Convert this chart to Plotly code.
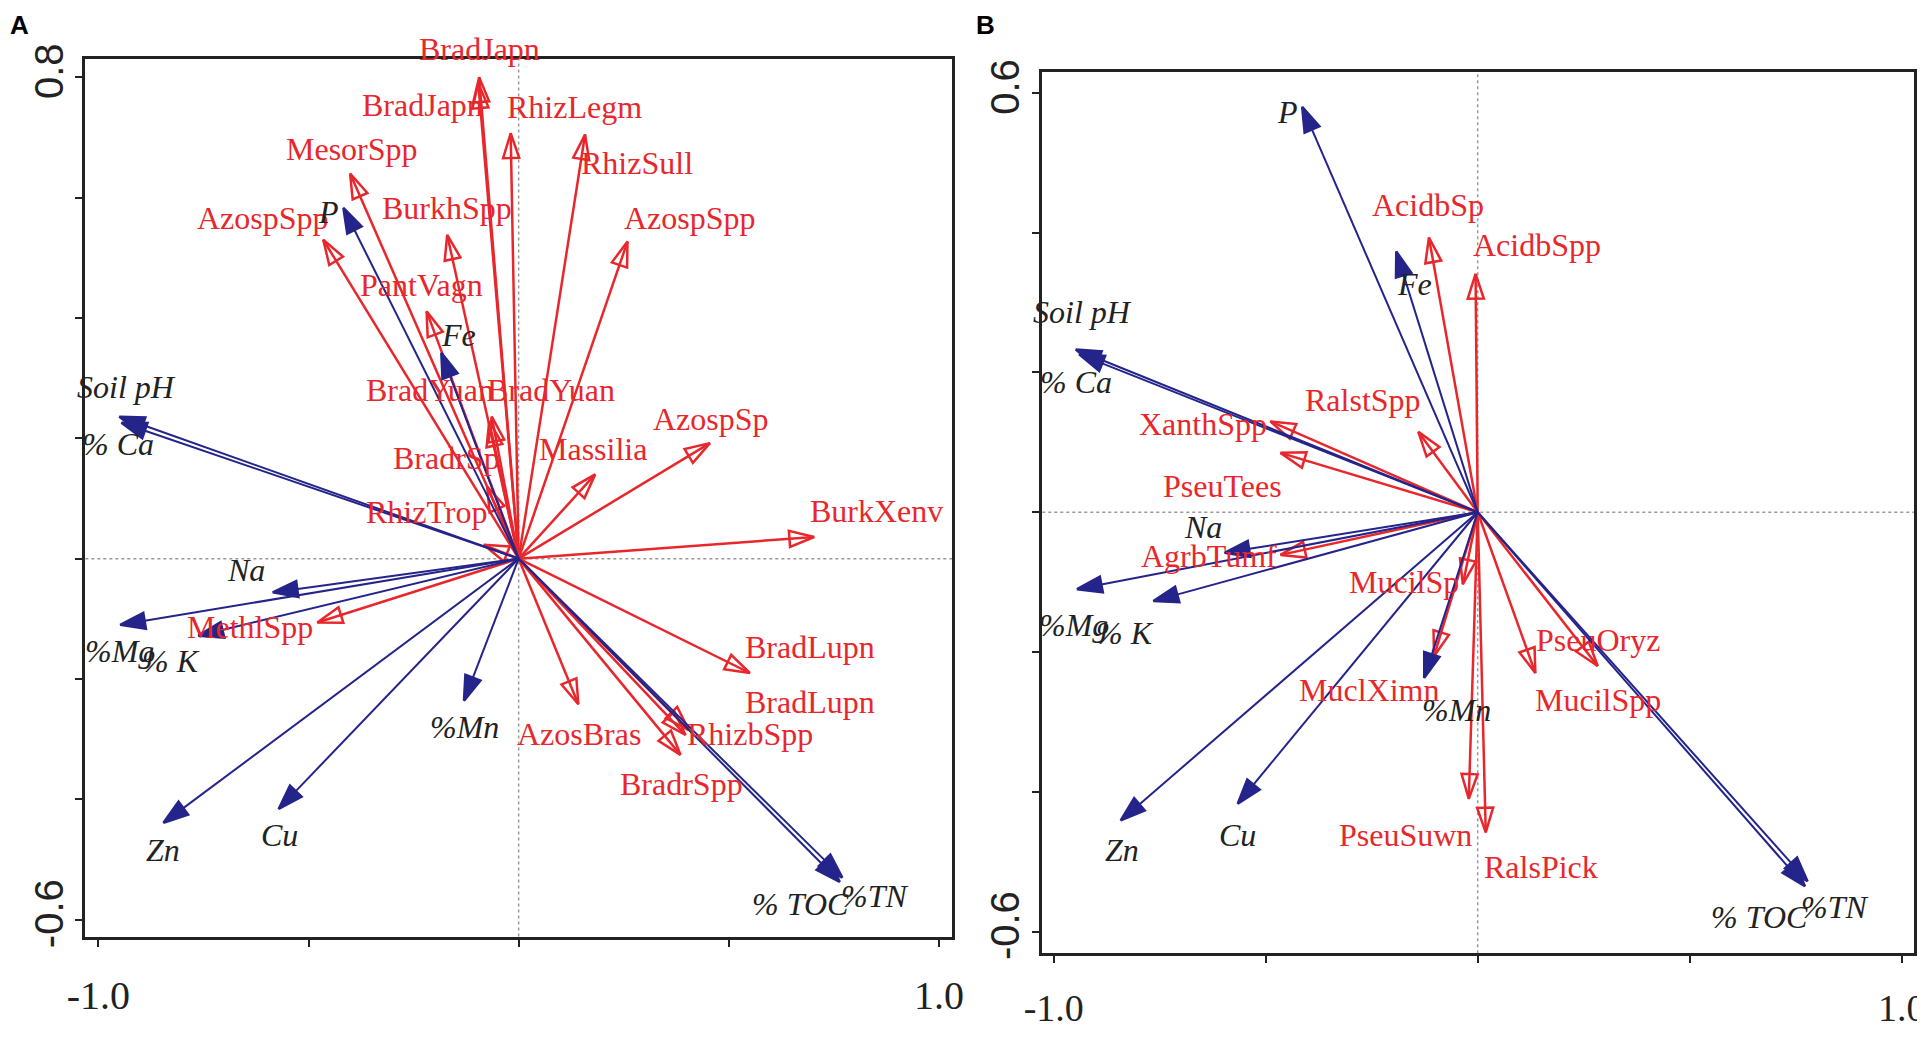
import plotly.graph_objects as go

# ---- panel A : species (red) ----
a_sp       = ["BradJapn", "BradJapn", "RhizLegm", "RhizSull", "MesorSpp", "AzospSpp", "BurkhSpp",
              "AzospSpp", "PantVagn", "BradYuan", "BradYuan", "BradrSp", "RhizTrop", "Massilia",
              "AzospSp", "BurkXenv", "MethlSpp", "BradLupn", "BradLupn", "RhizbSpp", "BradrSpp", "AzosBras"]
a_sp_x     = [-0.094, -0.096, -0.019, 0.158, -0.401, -0.465, -0.170, 0.259, -0.219, -0.070, -0.064,
              -0.075, -0.083, 0.182, 0.455, 0.703, -0.479, 0.550, 0.405, 0.397, 0.385, 0.142]
a_sp_y     = [0.800, 0.790, 0.707, 0.705, 0.640, 0.530, 0.538, 0.527, 0.411, 0.228, 0.236,
              0.120, 0.023, 0.140, 0.192, 0.036, -0.106, -0.190, -0.285, -0.293, -0.326, -0.242]
a_sp_lx    = [-0.094, -0.229, 0.132, 0.281, -0.396, -0.608, -0.170, 0.408, -0.231, -0.212, 0.078,
              -0.172, -0.217, 0.177, 0.458, 0.851, -0.639, 0.694, 0.694, 0.550, 0.387, 0.144]
a_sp_ly    = [0.846, 0.754, 0.751, 0.658, 0.681, 0.566, 0.583, 0.566, 0.455, 0.280, 0.280,
              0.167, 0.077, 0.183, 0.232, 0.080, -0.113, -0.146, -0.239, -0.291, -0.375, -0.291]

# ---- panel A : environment (blue) ----
a_env      = ["Soil pH", "% Ca", "P", "Fe", "Na", "%Mg", "% K", "Zn", "Cu", "%Mn", "% TOC", "%TN"]
a_env_x    = [-0.950, -0.945, -0.417, -0.184, -0.585, -0.948, -0.762, -0.845, -0.571, -0.130, 0.764, 0.770]
a_env_y    = [0.236, 0.226, 0.583, 0.342, -0.056, -0.110, -0.128, -0.439, -0.416, -0.236, -0.537, -0.530]
a_env_lx   = [-0.932, -0.953, -0.453, -0.142, -0.649, -0.950, -0.828, -0.847, -0.568, -0.130, 0.670, 0.847]
a_env_ly   = [0.285, 0.190, 0.576, 0.372, -0.018, -0.154, -0.170, -0.484, -0.460, -0.280, -0.574, -0.561]

# ---- panel B : species (red) ----
b_sp       = ["AcidbSp", "AcidbSpp", "RalstSpp", "XanthSpp", "PseuTees", "AgrbTumf", "MucilSp",
              "MuclXimn", "PseuSuwn", "RalsPick", "PseuOryz", "MucilSpp"]
b_sp_x     = [-0.115, -0.005, -0.140, -0.489, -0.465, -0.465, -0.035, -0.103, -0.021, 0.019, 0.283, 0.136]
b_sp_y     = [0.393, 0.341, 0.115, 0.130, 0.085, -0.061, -0.103, -0.206, -0.410, -0.458, -0.220, -0.230]
b_sp_lx    = [-0.117, 0.141, -0.271, -0.648, -0.601, -0.634, -0.173, -0.257, -0.171, 0.150, 0.283, 0.283]
b_sp_ly    = [0.439, 0.383, 0.160, 0.127, 0.038, -0.063, -0.100, -0.255, -0.462, -0.507, -0.183, -0.269]

# ---- panel B : environment (blue) ----
b_env      = ["P", "Fe", "Soil pH", "% Ca", "Na", "%Mg", "% K", "Zn", "Cu", "%Mn", "% TOC", "%TN"]
b_env_x    = [-0.414, -0.192, -0.948, -0.940, -0.597, -0.945, -0.765, -0.842, -0.566, -0.126, 0.772, 0.778]
b_env_y    = [0.580, 0.373, 0.233, 0.226, -0.058, -0.110, -0.127, -0.441, -0.417, -0.237, -0.535, -0.528]
b_env_lx   = [-0.449, -0.150, -0.931, -0.947, -0.648, -0.954, -0.833, -0.840, -0.566, -0.051, 0.664, 0.842]
b_env_ly   = [0.573, 0.327, 0.287, 0.186, -0.021, -0.162, -0.173, -0.483, -0.462, -0.283, -0.579, -0.565]

RED   = "#E8272C"
BLUE  = "#24248A"
SERIF = "Liberation Serif"
H     = 1041

A_YRANGE = [-0.628, 0.830]
A_YDOM   = [0.0941, 0.950]
B_YRANGE = [-0.631, 0.630]
B_YDOM   = [0.0778, 0.9376]

fig  = go.Figure()
anns = []


def arrows(xs, ys, color, symbol, width, xa, ya):
    for x, y in zip(xs, ys):
        fig.add_trace(go.Scatter(
            x = [0, x], y = [0, y], xaxis = xa, yaxis = ya,
            mode = "lines+markers",
            line = dict(color = color, width = width),
            marker = dict(symbol = ["circle", symbol], size = [0, 26], angleref = "previous", opacity = 1,
                          color = color, line = dict(color = color, width = 2.5)),
            hoverinfo = "skip", showlegend = False, cliponaxis = False))


def labels(xs, ys, names, color, xa, ya, yrange, ydom, italic = False):
    # plotly hides annotations anchored outside the axis range, so clamp and shift in px
    ppu = (ydom[1] - ydom[0]) * H / (yrange[1] - yrange[0])
    for x, y, n in zip(xs, ys, names):
        yc = min(y, yrange[1])
        anns.append(dict(x = x, y = yc, xref = xa, yref = ya, showarrow = False, yshift = (y - yc) * ppu,
                         text = f"<i>{n}</i>" if italic else n,
                         font = dict(family = SERIF, size = 32, color = color)))


arrows(a_sp_x, a_sp_y, RED, "arrow-open", 2.5, "x", "y")
arrows(a_env_x, a_env_y, BLUE, "arrow", 2, "x", "y")
labels(a_sp_lx, a_sp_ly, a_sp, RED, "x", "y", A_YRANGE, A_YDOM)
labels(a_env_lx, a_env_ly, a_env, "#222222", "x", "y", A_YRANGE, A_YDOM, italic = True)

arrows(b_sp_x, b_sp_y, RED, "arrow-open", 2.5, "x2", "y2")
arrows(b_env_x, b_env_y, BLUE, "arrow", 2, "x2", "y2")
labels(b_sp_lx, b_sp_ly, b_sp, RED, "x2", "y2", B_YRANGE, B_YDOM)
labels(b_env_lx, b_env_ly, b_env, "#222222", "x2", "y2", B_YRANGE, B_YDOM, italic = True)

anns.append(dict(text = "<b>A</b>", x = 0.0, y = 1.0, xref = "paper", yref = "paper", xanchor = "left",
                 yanchor = "top", showarrow = False, font = dict(family = "Liberation Sans", size = 26, color = "black")))
anns.append(dict(text = "<b>B</b>", x = 0.506, y = 1.0, xref = "paper", yref = "paper", xanchor = "left",
                 yanchor = "top", showarrow = False, font = dict(family = "Liberation Sans", size = 26, color = "black")))

ax_common = dict(showgrid = False, zeroline = False, showline = True, linecolor = "#222", linewidth = 3,
                 mirror = True, ticks = "outside", ticklen = 7, tickwidth = 2, tickcolor = "#222",
                 automargin = False, ticklabeloverflow = "allow")

fig.update_layout(
    plot_bgcolor = "white", paper_bgcolor = "white",
    margin = dict(l = 0, r = 0, t = 0, b = 0),
    xaxis  = dict(ax_common, domain = [0.0405, 0.4945], range = [-1.031, 1.031],
                  tickvals = [-1, -0.5, 0, 0.5, 1], ticktext = ["-1.0", "", "", "", "1.0"],
                  tickfont = dict(family = SERIF, size = 40, color = "#222"), ticklabelstandoff = 14),
    yaxis  = dict(ax_common, domain = A_YDOM, range = A_YRANGE,
                  tickvals = [-0.6, -0.4, -0.2, 0, 0.2, 0.4, 0.6, 0.8],
                  ticktext = ["-0.6", "", "", "", "", "", "", "0.8"], tickangle = -90,
                  tickfont = dict(family = "Liberation Sans", size = 40, color = "#222"), ticklabelstandoff = -4),
    xaxis2 = dict(ax_common, domain = [0.5418, 0.9984], range = [-1.027, 1.029], anchor = "y2",
                  tickvals = [-1, -0.5, 0, 0.5, 1], ticktext = ["-1.0", "", "", "", "1.0"],
                  tickfont = dict(family = SERIF, size = 38, color = "#222"), ticklabelstandoff = 12),
    yaxis2 = dict(ax_common, domain = B_YDOM, range = B_YRANGE, anchor = "x2",
                  tickvals = [-0.6, -0.4, -0.2, 0, 0.2, 0.4, 0.6],
                  ticktext = ["-0.6", "", "", "", "", "", "0.6"], tickangle = -90,
                  tickfont = dict(family = "Liberation Sans", size = 40, color = "#222"), ticklabelstandoff = -3),
    annotations = anns,
)

# dotted reference lines through the origin
for xa, ya in (("x", "y"), ("x2", "y2")):
    fig.add_shape(type = "line", xref = xa, yref = f"{ya} domain", x0 = 0, x1 = 0, y0 = 0, y1 = 1,
                  line = dict(color = "#999", width = 1.5, dash = "dot"), layer = "below")
    fig.add_shape(type = "line", xref = f"{xa} domain", yref = ya, x0 = 0, x1 = 1, y0 = 0, y1 = 0,
                  line = dict(color = "#999", width = 1.5, dash = "dot"), layer = "below")

fig.write_html("out.html")
